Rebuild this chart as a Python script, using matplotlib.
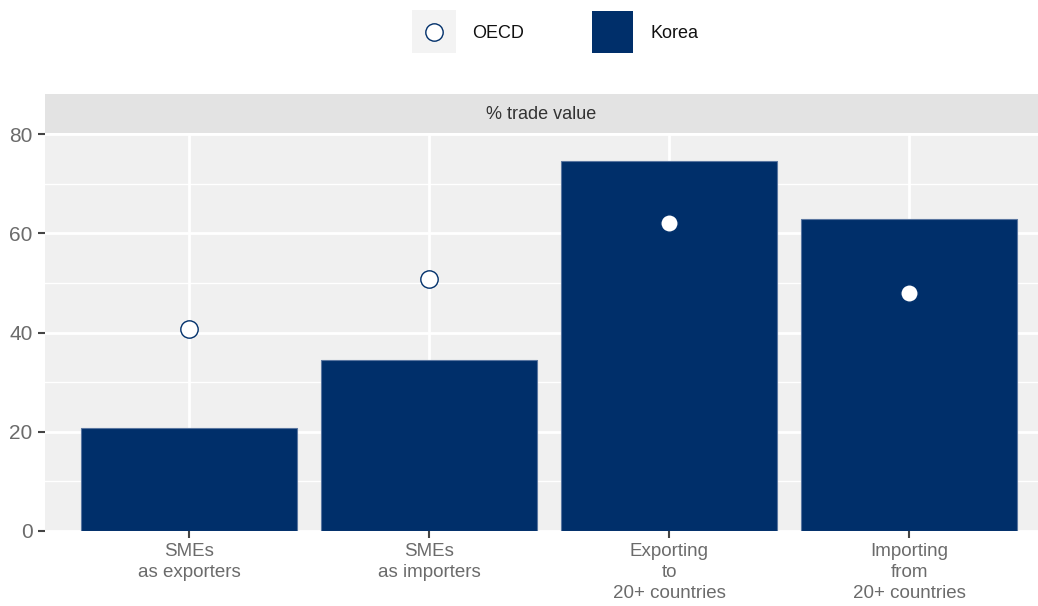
import numpy as np
import matplotlib
matplotlib.use('Agg')
import matplotlib.pyplot as plt
from matplotlib.lines import Line2D
from matplotlib.patches import Rectangle

plt.rcParams['font.family'] = ['Liberation Sans', 'DejaVu Sans']

categories = ['SMEs\nas exporters', 'SMEs\nas importers', 'Exporting\nto\n20+ countries', 'Importing\nfrom\n20+ countries']
korea = [20.7, 34.5, 74.5, 62.8]
oecd = [40.8, 50.8, 62.0, 48.0]
yticks = [0, 20, 40, 60, 80]
strip_label = '% trade value'

navy = '#002f6a'
x = np.arange(1, len(categories) + 1)

fig = plt.figure(figsize=(10.38, 6.06), dpi=100)
ax = fig.add_axes([45/1038, 1 - 531/606, 1 - 45/1038, (531 - 134)/606])
ax.set_facecolor('#f0f0f0')

# grid
for v in [10, 30, 50, 70]:
    ax.axhline(v, color='white', lw=1.0, zorder=0)
for v in yticks:
    ax.axhline(v, color='white', lw=2.0, zorder=0)
for v in x:
    ax.axvline(v, color='white', lw=2.0, zorder=0)

ax.bar(x, korea, width=0.9, color=navy, edgecolor='#5a76a0', linewidth=0.8, zorder=2)
ax.plot(x, oecd, 'o', ms=12.5, mfc='white', mec=navy, mew=1.0, zorder=3, linestyle='none')

ax.set_xlim(0.4, 4.0 + (1038 - 909) / 240)
ax.set_ylim(0, 80)
ax.set_yticks(yticks)
ax.set_xticks(x)
ax.set_xticklabels(categories, linespacing=1.3)
ax.tick_params(axis='y', labelsize=15, labelcolor='#6b6b6b', color='#444444', length=5, width=1.5, pad=4)
ax.tick_params(axis='x', labelsize=13.5, labelcolor='#6b6b6b', color='#444444', length=5, width=1.5, pad=4)
for s in ax.spines.values():
    s.set_visible(False)

# facet strip
strip_ax = fig.add_axes([45/1038, 1 - 133/606, 1 - 45/1038, 39/606])
strip_ax.set_facecolor('#e3e3e3')
strip_ax.set_xticks([])
strip_ax.set_yticks([])
for s in strip_ax.spines.values():
    s.set_visible(False)
strip_ax.text(0.5, 0.47, strip_label, ha='center', va='center', fontsize=13, color='#333333',
              transform=strip_ax.transAxes)

# legend
fig.patches.append(Rectangle((412/1038, 1 - 53/606), 44/1038, 43/606, transform=fig.transFigure,
                             facecolor='#f3f3f3', edgecolor='none'))
fig.lines.append(Line2D([434/1038], [1 - 32/606], marker='o', ms=12.5, mfc='white', mec=navy, mew=1.0,
                        transform=fig.transFigure, linestyle='none'))
fig.text(472/1038, 1 - 33/606, 'OECD', fontsize=13, va='center', ha='left', color='#111111')
fig.patches.append(Rectangle((592/1038, 1 - 53/606), 41/1038, 42/606, transform=fig.transFigure,
                             facecolor=navy, edgecolor='none'))
fig.text(651/1038, 1 - 33/606, 'Korea', fontsize=13, va='center', ha='left', color='#111111')

fig.savefig('out.png', dpi=100)
